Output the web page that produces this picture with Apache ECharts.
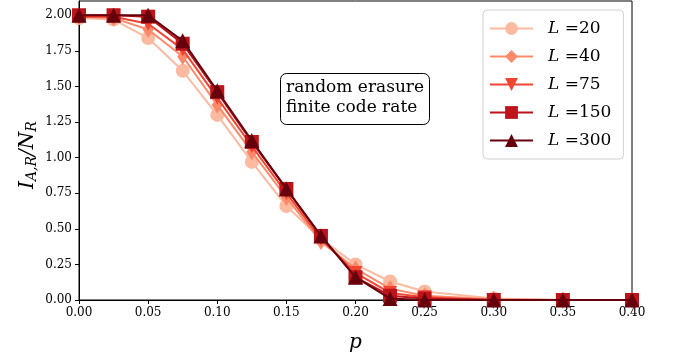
<!DOCTYPE html>
<html>
<head>
<meta charset="utf-8">
<script src="https://cdn.jsdelivr.net/npm/echarts@6/dist/echarts.min.js"></script>
<style>html,body{margin:0;padding:0;background:#fff}#c{width:678px;height:360px}</style>
</head>
<body>
<div id="c"></div>
<script>
const pValues = [0, 0.025, 0.05, 0.075, 0.1, 0.125, 0.15, 0.175, 0.2, 0.225, 0.25, 0.3, 0.35, 0.4];
const seriesNames = ['20', '40', '75', '150', '300'];
const L20 = [1.98, 1.97, 1.84, 1.61, 1.30, 0.97, 0.66, 0.43, 0.25, 0.13, 0.06, 0.01, 0.00, 0.00];
const L40 = [1.99, 1.98, 1.90, 1.71, 1.37, 1.04, 0.72, 0.41, 0.22, 0.08, 0.03, 0.005, 0.00, 0.00];
const L75 = [1.99, 1.99, 1.94, 1.76, 1.42, 1.08, 0.75, 0.43, 0.19, 0.05, 0.02, 0.00, 0.00, 0.00];
const L150 = [2.00, 2.00, 1.99, 1.80, 1.46, 1.11, 0.78, 0.45, 0.16, 0.03, 0.01, 0.00, 0.00, 0.00];
const L300 = [2.00, 2.00, 2.00, 1.82, 1.47, 1.12, 0.78, 0.45, 0.16, 0.01, 0.00, 0.00, 0.00, 0.00];
const yTicks = [0, 0.25, 0.5, 0.75, 1.0, 1.25, 1.5, 1.75, 2.0];
const xTicks = [0, 0.05, 0.1, 0.15, 0.2, 0.25, 0.3, 0.35, 0.4];

const FONT = 'DejaVu Serif';
const colors = ['#fcbba1', '#fc8a6a', '#f14432', '#bc141a', '#67000d'];
const symbols = ['circle', 'diamond', 'triangle', 'rect', 'triangle'];
const rotates = [0, 0, 180, 0, 0];
const sizes = [14, [11, 17], 14, 14, 15];
const allData = [L20, L40, L75, L150, L300];

const series = allData.map((d, i) => ({
  name: 'L =' + seriesNames[i],
  type: 'line',
  data: pValues.map((p, j) => [p, d[j]]),
  symbol: symbols[i],
  symbolRotate: rotates[i],
  symbolSize: sizes[i],
  showAllSymbol: true,
  clip: true,
  z: 2 + i,
  lineStyle: { color: colors[i], width: 2 },
  itemStyle: { color: colors[i], opacity: 1 },
  emphasis: { disabled: true }
}));

const chart = echarts.init(document.getElementById('c'), null, { renderer: 'canvas' });
chart.setOption({
  animation: false,
  backgroundColor: '#fff',
  grid: { left: 79, right: 46, top: 1, bottom: 60, show: true, borderColor: '#000', borderWidth: 1, backgroundColor: 'transparent' },
  xAxis: {
    type: 'value', min: 0, max: 0.4, interval: 0.05,
    axisLine: { show: true, lineStyle: { color: '#000', width: 1 } },
    axisTick: { show: true, length: 4, lineStyle: { color: '#000' } },
    splitLine: { show: false },
    axisLabel: { fontFamily: FONT, fontSize: 12, color: '#000', margin: 7, formatter: v => v.toFixed(2),
      customValues: xTicks },
    name: 'p', nameLocation: 'middle', nameGap: 33,
    nameTextStyle: { fontFamily: FONT, fontStyle: 'italic', fontSize: 20, color: '#000' }
  },
  yAxis: {
    type: 'value', min: 0, max: 2.1,
    axisLine: { show: true, lineStyle: { color: '#000', width: 1 } },
    axisTick: { show: true, length: 4, lineStyle: { color: '#000' }, customValues: yTicks },
    splitLine: { show: false },
    axisLabel: { fontFamily: FONT, fontSize: 12, color: '#000', margin: 7, formatter: v => v.toFixed(2),
      customValues: yTicks }
  },
  legend: {
    orient: 'vertical', left: 483, top: 10,
    backgroundColor: '#fff', borderColor: '#d0d0d0', borderWidth: 1, borderRadius: 4,
    padding: [9, 12, 9, 6],
    itemWidth: 43, itemHeight: 16, itemGap: 9,
    textStyle: {
      fontFamily: FONT, fontSize: 17, color: '#000', lineHeight: 19,
      rich: { i: { fontFamily: FONT, fontStyle: 'italic', fontSize: 17, padding: [0, 0, 0, 10] }, n: { fontFamily: FONT, fontSize: 17 } }
    },
    formatter: name => '{i|L} {n|' + name.slice(2) + '}',
    data: series.map(s => s.name)
  },
  graphic: [
    {
      type: 'rect', left: 280, top: 73, z: 50,
      shape: { width: 149, height: 51, r: 6 },
      style: { fill: '#fff', stroke: '#000', lineWidth: 1 }
    },
    {
      type: 'text', left: 286, top: 78, z: 51,
      style: { text: 'random erasure\nfinite code rate', fontFamily: FONT, fontSize: 17, lineHeight: 20, fill: '#000' }
    },
    {
      type: 'text', x: 28, y: 155, rotation: Math.PI / 2, z: 51,
      style: {
        text: '{i|I}{s|A,R}{i|/N}{s|R}', align: 'center', verticalAlign: 'middle',
        rich: {
          i: { fontFamily: FONT, fontStyle: 'italic', fontSize: 20, fill: '#000' },
          s: { fontFamily: FONT, fontStyle: 'italic', fontSize: 14, fill: '#000', verticalAlign: 'bottom', padding: [8, 0, 0, 0] }
        }
      }
    }
  ],
  series: series
});
</script>
</body>
</html>
